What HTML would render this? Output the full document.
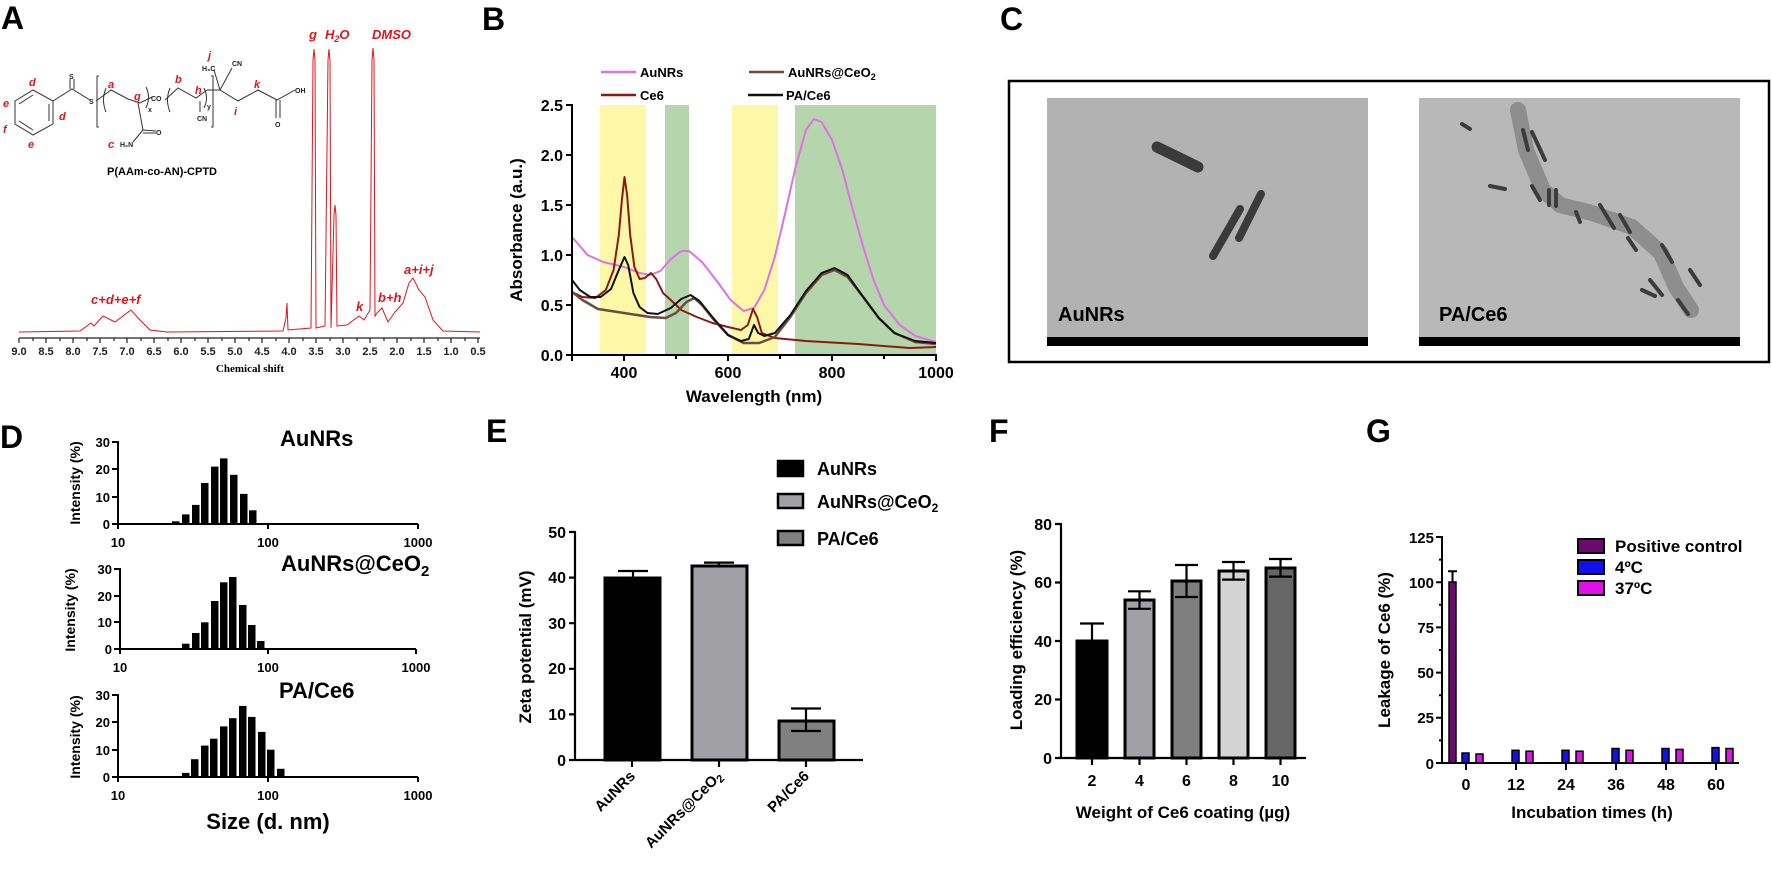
<!DOCTYPE html>
<html><head><meta charset="utf-8"><style>
html,body{margin:0;padding:0;background:#fff;}
svg{display:block;font-family:"Liberation Sans",sans-serif;}
.b{font-weight:bold;}
</style></head><body>
<svg width="1772" height="869" viewBox="0 0 1772 869" xmlns="http://www.w3.org/2000/svg">
<!-- Panel letters -->
<g class="b" font-size="32" fill="#000">
<text x="1" y="29">A</text><text x="482" y="30">B</text><text x="1000" y="30">C</text>
<text x="0" y="448">D</text><text x="486" y="442">E</text><text x="989" y="442">F</text><text x="1366" y="442">G</text>
</g>

<!-- ===== A: NMR ===== -->
<g stroke="#333" stroke-width="1" fill="none">
<polygon points="15,101 33,90 53,101 53,124 33,135 15,124"/>
<line x1="19" y1="104" x2="33" y2="95"/><line x1="49" y1="104" x2="49" y2="121"/><line x1="19" y1="121" x2="33" y2="130"/>
<polyline points="53,101 72,89 90,100"/><line x1="70" y1="79" x2="70" y2="89"/><line x1="74" y1="79" x2="74" y2="89"/>
<polyline points="99,76 97,76 97,127 99,127"/><path d="M106,88 Q101,100 106,112"/>
<polyline points="96,101 111,90 128,99 140,103 152,97"/><path d="M146,87 Q151,97 146,108"/>
<polyline points="138,103 143,130 156,131"/><line x1="143" y1="133" x2="156" y2="133"/><line x1="143" y1="130" x2="133" y2="142"/>
<path d="M170,88 Q165,100 170,112"/><polyline points="165,100 178,88 196,98 207,90"/><line x1="200" y1="101" x2="200" y2="112"/>
<path d="M204,88 Q209,98 204,108"/><polyline points="211,76 213,76 213,127 211,127"/>
<polyline points="207,90 220,90 238,101 258,90 277,100 295,90"/><line x1="220" y1="90" x2="214" y2="70"/><line x1="220" y1="90" x2="232" y2="68"/>
<line x1="276" y1="100" x2="276" y2="118"/><line x1="280" y1="100" x2="280" y2="118"/>
</g>
<g font-size="7" class="b" fill="#222">
<text x="69" y="79">S</text><text x="89" y="104">S</text><text x="151" y="101">CO</text><text x="148" y="112">x</text>
<text x="156" y="135">O</text><text x="120" y="147">H₂N</text><text x="197" y="121">CN</text><text x="207" y="109">y</text>
<text x="202" y="71">H₃C</text><text x="232" y="66">CN</text><text x="295" y="93">OH</text><text x="275" y="127">O</text>
</g>
<g font-size="11" class="b" font-style="italic" fill="#e0141c">
<text x="29" y="86">d</text><text x="59" y="120">d</text><text x="3" y="107">e</text><text x="3" y="133">f</text><text x="28" y="148">e</text>
<text x="108" y="148">c</text><text x="108" y="88">a</text><text x="134" y="100">g</text><text x="175" y="83">b</text><text x="195" y="94">h</text>
<text x="208" y="59">j</text><text x="254" y="88">k</text><text x="234" y="115">i</text>
</g>
<text x="162" y="175" font-size="11" class="b" text-anchor="middle">P(AAm-co-AN)-CPTD</text>
<path fill="none" stroke="#e0141c" stroke-width="1" d="M19,332 L80,331 L91,323 L94,326 L103,316 L115,322 L131,310 L140,320 L150,330 L167,332 L283,331 L286,318 L287,303 L288,330 L311,328 L313,60 L314,49 L315,60 L316,328 L325,326 L328,60 L329,49 L330,60 L331,328 L334,215 L335,205 L336,215 L337,326 L347,325 L359,316 L364,320 L370,310 L372,60 L373,48 L374,60 L375,316 L377,313 L382,308 L388,322 L395,312 L403,303 L409,283 L413,278 L419,290 L425,297 L433,320 L443,331 L480,332"/>
<g font-size="13" class="b" font-style="italic" fill="#e0141c">
<text x="309" y="39">g</text><text x="325" y="39">H<tspan font-size="9" dy="3">2</tspan><tspan dy="-3">O</tspan></text>
<text x="372" y="39">DMSO</text><text x="91" y="304">c+d+e+f</text><text x="356" y="311">k</text><text x="378" y="302">b+h</text><text x="404" y="274">a+i+j</text>
</g>
<g stroke="#222" stroke-width="1.2">
<line x1="19" y1="338" x2="480" y2="338"/>
<path d="M19,338v5M33,338v3M46,338v5M60,338v3M73,338v5M87,338v3M100,338v5M114,338v3M127,338v5M141,338v3M154,338v5M168,338v3M181,338v5M195,338v3M208,338v5M222,338v3M235,338v5M249,338v3M262,338v5M276,338v3M289,338v5M303,338v3M316,338v5M330,338v3M343,338v5M357,338v3M370,338v5M384,338v3M397,338v5M411,338v3M424,338v5M438,338v3M451,338v5M465,338v3M478,338v5"/>
</g>
<g font-size="11" class="b" text-anchor="middle" fill="#222">
<text x="19" y="355">9.0</text><text x="46" y="355">8.5</text><text x="73" y="355">8.0</text><text x="100" y="355">7.5</text><text x="127" y="355">7.0</text><text x="154" y="355">6.5</text><text x="181" y="355">6.0</text><text x="208" y="355">5.5</text><text x="235" y="355">5.0</text><text x="262" y="355">4.5</text><text x="289" y="355">4.0</text><text x="316" y="355">3.5</text><text x="343" y="355">3.0</text><text x="370" y="355">2.5</text><text x="397" y="355">2.0</text><text x="424" y="355">1.5</text><text x="451" y="355">1.0</text><text x="478" y="355">0.5</text>
</g>
<text x="250" y="372" font-family="Liberation Serif,serif" font-size="11" class="b" text-anchor="middle">Chemical shift</text>

<!-- ===== B: UV-vis ===== -->
<rect x="600" y="105" width="46" height="250" fill="#fcf8a8"/>
<rect x="665" y="105" width="24" height="250" fill="#b5d6ac"/>
<rect x="732" y="105" width="46" height="250" fill="#fcf8a8"/>
<rect x="795" y="105" width="141" height="250" fill="#b5d6ac"/>
<g fill="none" stroke-width="2" stroke-linejoin="round">
<polyline stroke="#e070e6" points="572,237 587.6,255 603.2,262 624,267 639.6,273 650,275 660.4,271 670.8,259 681.2,251 689,251 702,262 717.6,282 730.6,300 743.6,311 754,308 764.4,290 774.8,257 785.2,213 795.6,167 806,130 813.8,119 821.6,122 832,140 842.4,170 852.8,210 863.2,247 873.6,280 884,305 899.6,325 915.2,336 936,342"/>
<polyline stroke="#8a1a12" points="572,292 582.4,297 595.4,298 605.8,290 613.6,270 618.8,235 621.9,200 624.5,177 627.1,195 630.2,235 634.4,267 639.6,279 644.8,278 651,273 656.2,279 663,293 670.8,300 681.2,310 696.8,317 712.4,323 728,327 741,330 747.8,325 753,309 757.1,317 761.8,333 774.8,338 806,341 858,344 910,348 936,347"/>
<polyline stroke="#6e4c3c" stroke-width="2.5" points="572,292 582.4,300 598,309 624,313 650,317 665.6,318 676,313 686.4,302 694.2,298 702,305 712.4,318 728,335 743.6,343 759.2,343 774.8,337 790.4,317 806,293 821.6,275 834.6,270 847.6,277 863.2,297 878.8,318 894.4,333 915.2,342 936,344"/>
<polyline stroke="#111" points="572,280 579.8,290 590.2,297 600.6,297 611,289 618.8,270 624.5,257 628.2,265 633.4,293 639.6,307 647.4,313 657.8,314 670.8,308 681.2,299 690.6,295 699.4,301 712.4,317 728,335 741,341 748.8,339 754,325 758.2,333 764.4,336 774.8,333 790.4,315 806,291 821.6,273 834.6,268 847.6,275 863.2,297 878.8,318 894.4,333 915.2,341 936,343"/>
</g>
<g stroke="#000" stroke-width="2">
<line x1="572" y1="104" x2="572" y2="356"/><line x1="571" y1="355" x2="937" y2="355"/>
<path d="M566,105h6M566,155h6M566,205h6M566,255h6M566,305h6M566,355h6M572,355v6M624,355v6M676,355v4M728,355v6M780,355v4M832,355v6M884,355v4M936,355v6"/>
</g>
<g font-size="16" class="b" text-anchor="end">
<text x="563" y="111">2.5</text><text x="563" y="161">2.0</text><text x="563" y="211">1.5</text><text x="563" y="261">1.0</text><text x="563" y="311">0.5</text><text x="563" y="361">0.0</text>
</g>
<g font-size="16" class="b" text-anchor="middle">
<text x="624" y="378">400</text><text x="728" y="378">600</text><text x="832" y="378">800</text><text x="936" y="378">1000</text>
</g>
<text x="754" y="402" font-size="17" class="b" text-anchor="middle">Wavelength (nm)</text>
<text transform="translate(522,230) rotate(-90)" font-size="17" class="b" text-anchor="middle">Absorbance (a.u.)</text>
<g stroke-width="2.5"><line x1="601" y1="72" x2="636" y2="72" stroke="#e070e6"/><line x1="601" y1="95" x2="636" y2="95" stroke="#8a1a12"/>
<line x1="749" y1="72" x2="784" y2="72" stroke="#6e4c3c"/><line x1="748" y1="95" x2="783" y2="95" stroke="#111"/></g>
<g font-size="13" class="b"><text x="640" y="77">AuNRs</text><text x="640" y="100">Ce6</text>
<text x="788" y="77">AuNRs@CeO<tspan font-size="9" dy="3">2</tspan></text><text x="786" y="100">PA/Ce6</text></g>

<!-- ===== C: TEM ===== -->
<rect x="1009" y="81" width="760" height="281" fill="none" stroke="#000" stroke-width="2.5"/>
<rect x="1047" y="98" width="321" height="248" fill="#b2b2b2"/>
<rect x="1419" y="98" width="321" height="248" fill="#b8b8b8"/>
<rect x="1047" y="337" width="321" height="9" fill="#000"/><rect x="1419" y="337" width="321" height="9" fill="#000"/>
<g stroke-linecap="round" stroke="#3a3a3a">
<line x1="1157" y1="147" x2="1198" y2="167" stroke-width="11"/>
<line x1="1261" y1="194" x2="1239" y2="238" stroke-width="8"/>
<line x1="1240" y1="209" x2="1213" y2="256" stroke-width="8"/>
</g>
<g stroke-linecap="round" fill="none">
<polyline points="1518,110 1526,150 1543,190 1560,205 1592,213 1632,227 1661,253 1676,287 1691,310" stroke="#8e8e8e" stroke-width="16" stroke-linejoin="round"/>
<g stroke="#3c3c3c" stroke-width="4">
<line x1="1462" y1="124" x2="1470" y2="129"/><line x1="1523" y1="130" x2="1528" y2="150"/><line x1="1532" y1="132" x2="1545" y2="160"/>
<line x1="1490" y1="186" x2="1505" y2="189"/><line x1="1532" y1="186" x2="1540" y2="200"/><line x1="1549" y1="190" x2="1549" y2="205"/><line x1="1556" y1="190" x2="1556" y2="206"/>
<line x1="1576" y1="212" x2="1580" y2="222"/><line x1="1600" y1="205" x2="1614" y2="228"/><line x1="1620" y1="215" x2="1630" y2="232"/>
<line x1="1628" y1="238" x2="1636" y2="250"/><line x1="1662" y1="245" x2="1672" y2="262"/><line x1="1650" y1="280" x2="1662" y2="295"/>
<line x1="1642" y1="290" x2="1655" y2="296"/><line x1="1678" y1="300" x2="1688" y2="314"/><line x1="1690" y1="270" x2="1700" y2="285"/>
</g></g>
<g font-size="20" class="b"><text x="1058" y="321">AuNRs</text><text x="1439" y="321">PA/Ce6</text></g>

<!-- ===== D: DLS ===== -->
<g fill="#000">
<!-- top -->
<rect x="172" y="521.3" width="7.5" height="2.7"/><rect x="182" y="514.4" width="7.5" height="9.6"/><rect x="192" y="504.9" width="7.5" height="19.1"/><rect x="201" y="483" width="7.5" height="41"/><rect x="211" y="466.6" width="7.5" height="57.4"/><rect x="220" y="458.4" width="7.5" height="65.6"/><rect x="230" y="474.8" width="7.5" height="49.2"/><rect x="240" y="493.9" width="7.5" height="30.1"/><rect x="249" y="510.3" width="7.5" height="13.7"/>
<!-- mid -->
<rect x="182" y="643.7" width="7.5" height="5.3"/><rect x="192" y="633" width="7.5" height="16"/><rect x="201" y="622.3" width="7.5" height="26.7"/><rect x="211" y="601" width="7.5" height="48"/><rect x="220" y="582.3" width="7.5" height="66.7"/><rect x="229" y="577" width="7.5" height="72"/><rect x="239" y="605" width="7.5" height="44"/><rect x="248" y="625" width="7.5" height="24"/><rect x="257" y="641" width="7.5" height="8"/>
<!-- bottom -->
<rect x="182" y="772.9" width="7.5" height="4.1"/><rect x="191" y="759.2" width="7.5" height="17.8"/><rect x="201" y="745.6" width="7.5" height="31.4"/><rect x="210" y="738.7" width="7.5" height="38.3"/><rect x="220" y="726.4" width="7.5" height="50.6"/><rect x="229" y="718.2" width="7.5" height="58.8"/><rect x="239" y="705.9" width="7.5" height="71.1"/><rect x="248" y="716.9" width="7.5" height="60.1"/><rect x="258" y="731.9" width="7.5" height="45.1"/><rect x="267" y="749.7" width="7.5" height="27.3"/><rect x="277" y="768.8" width="7.5" height="8.2"/>
</g>
<g stroke="#000" stroke-width="2" fill="none">
<path d="M118,441V524H418M112,442h6M112,469h6M112,497h6M112,524h6M118,524v5M268,524v5M418,524v5"/>
<path d="M120,568V649H416M114,569h6M114,596h6M114,622h6M114,649h6M120,649v5M268,649v5M416,649v5"/>
<path d="M118,694V777H418M112,695h6M112,722h6M112,750h6M112,777h6M118,777v5M268,777v5M418,777v5"/>
</g>
<g font-size="13" class="b" text-anchor="end">
<text x="110" y="447">30</text><text x="110" y="474">20</text><text x="110" y="502">10</text><text x="110" y="529">0</text>
<text x="112" y="574">30</text><text x="112" y="601">20</text><text x="112" y="627">10</text><text x="112" y="654">0</text>
<text x="110" y="700">30</text><text x="110" y="727">20</text><text x="110" y="755">10</text><text x="110" y="782">0</text>
</g>
<g font-size="13" class="b" text-anchor="middle">
<text x="118" y="547">10</text><text x="268" y="547">100</text><text x="418" y="547">1000</text>
<text x="120" y="672">10</text><text x="268" y="672">100</text><text x="416" y="672">1000</text>
<text x="118" y="800">10</text><text x="268" y="800">100</text><text x="418" y="800">1000</text>
</g>
<g font-size="14" class="b" text-anchor="middle">
<text transform="translate(80,483) rotate(-90)">Intensity (%)</text>
<text transform="translate(75,610) rotate(-90)">Intensity (%)</text>
<text transform="translate(80,737) rotate(-90)">Intensity (%)</text>
</g>
<g font-size="22" class="b"><text x="280" y="446">AuNRs</text><text x="281" y="571">AuNRs@CeO<tspan font-size="15" dy="5">2</tspan></text><text x="279" y="698">PA/Ce6</text></g>
<text x="268" y="829" font-size="22" class="b" text-anchor="middle">Size (d. nm)</text>

<!-- ===== E: Zeta ===== -->
<g stroke="#000" stroke-width="3">
<rect x="605" y="578" width="55" height="182" fill="#000"/>
<rect x="692" y="566" width="55" height="194" fill="#a1a1a5"/>
<rect x="779" y="721" width="55" height="39" fill="#808080"/>
</g>
<g stroke="#000" stroke-width="2.2" fill="none">
<path d="M633,578V571M618,571h30M719,566V562.6M704,562.6h30M806,721V708.5M791,708.5h30M806,721V731M791,731h30"/>
<path d="M575,531V760H863M569,532h6M569,577.6h6M569,623.2h6M569,668.8h6M569,714.4h6M569,760h6M632,760v7M719,760v7M806,760v7"/>
</g>
<g font-size="16" class="b" text-anchor="end">
<text x="566" y="538">50</text><text x="566" y="583">40</text><text x="566" y="629">30</text><text x="566" y="674">20</text><text x="566" y="720">10</text><text x="566" y="766">0</text>
</g>
<g font-size="15" class="b" text-anchor="end">
<text transform="translate(636,777) rotate(-45)">AuNRs</text>
<text transform="translate(723,777) rotate(-45)">AuNRs@CeO<tspan font-size="11" dy="3">2</tspan></text>
<text transform="translate(810,777) rotate(-45)">PA/Ce6</text>
</g>
<text transform="translate(531,647) rotate(-90)" font-size="17" class="b" text-anchor="middle">Zeta potential (mV)</text>
<g stroke="#000" stroke-width="2.5"><rect x="778" y="461" width="25" height="15" fill="#000"/><rect x="778" y="494" width="25" height="14" fill="#a1a1a5"/><rect x="778" y="531" width="25" height="14" fill="#808080"/></g>
<g font-size="18" class="b"><text x="817" y="475">AuNRs</text><text x="817" y="508">AuNRs@CeO<tspan font-size="12" dy="4">2</tspan></text><text x="817" y="545">PA/Ce6</text></g>

<!-- ===== F: Loading ===== -->
<g stroke="#000" stroke-width="3">
<rect x="1077" y="641" width="30" height="117" fill="#000"/>
<rect x="1125" y="600" width="29" height="158" fill="#a1a1a5"/>
<rect x="1172" y="581" width="29" height="177" fill="#7f7f7f"/>
<rect x="1219" y="571" width="29" height="187" fill="#d3d3d3"/>
<rect x="1266" y="568" width="29" height="190" fill="#666"/>
</g>
<g stroke="#000" stroke-width="2.2" fill="none">
<path d="M1092,641V623.5M1080,623.5h24M1139.5,600V591.3M1128,591.3h23M1139.5,600V608.8M1128,608.8h23M1186.5,581V565M1175,565h23M1186.5,581V597M1175,597h23M1233.5,571V562M1222,562h23M1233.5,571V579.6M1222,579.6h23M1280.5,568V559M1269,559h23M1280.5,568V576.6M1269,576.6h23"/>
<path d="M1061,523V758H1306M1055,524h6M1055,582.5h6M1055,641h6M1055,699.5h6M1055,758h6M1092,758v7M1139.5,758v7M1186.5,758v7M1233.5,758v7M1280.5,758v7"/>
</g>
<g font-size="16" class="b" text-anchor="end">
<text x="1052" y="530">80</text><text x="1052" y="588">60</text><text x="1052" y="647">40</text><text x="1052" y="705">20</text><text x="1052" y="764">0</text>
</g>
<g font-size="16" class="b" text-anchor="middle">
<text x="1092" y="786">2</text><text x="1139.5" y="786">4</text><text x="1186.5" y="786">6</text><text x="1233.5" y="786">8</text><text x="1280.5" y="786">10</text>
</g>
<text x="1183" y="818" font-size="17" class="b" text-anchor="middle">Weight of Ce6 coating (µg)</text>
<text transform="translate(1022,640) rotate(-90)" font-size="17" class="b" text-anchor="middle">Loading efficiency (%)</text>

<!-- ===== G: Leakage ===== -->
<g stroke="#000" stroke-width="1.5">
<rect x="1449" y="582" width="7" height="181" fill="#6a0a6e"/>
<rect x="1462" y="753" width="7" height="10" fill="#1010f0"/><rect x="1476" y="754" width="7" height="9" fill="#e010e8"/>
<rect x="1512" y="750.3" width="7" height="12.7" fill="#1010f0"/><rect x="1526" y="751.2" width="7" height="11.8" fill="#e010e8"/>
<rect x="1562" y="750.3" width="7" height="12.7" fill="#1010f0"/><rect x="1576" y="751.2" width="7" height="11.8" fill="#e010e8"/>
<rect x="1612" y="748.5" width="7" height="14.5" fill="#1010f0"/><rect x="1626" y="750.3" width="7" height="12.7" fill="#e010e8"/>
<rect x="1662" y="748.5" width="7" height="14.5" fill="#1010f0"/><rect x="1676" y="749.4" width="7" height="13.6" fill="#e010e8"/>
<rect x="1712" y="747.6" width="7" height="15.4" fill="#1010f0"/><rect x="1726" y="748.5" width="7" height="14.5" fill="#e010e8"/>
</g>
<g stroke="#000" stroke-width="2" fill="none">
<path d="M1452.5,582V571.3M1448,571.3h9"/>
<path d="M1442,536V763H1739M1436,537h6M1439,559.6h3M1436,582.2h6M1439,604.8h3M1436,627.4h6M1439,650h3M1436,672.6h6M1439,695.2h3M1436,717.8h6M1439,740.4h3M1436,763h6M1466,763v7M1516,763v7M1566,763v7M1616,763v7M1666,763v7M1716,763v7"/>
</g>
<g font-size="15" class="b" text-anchor="end">
<text x="1434" y="543">125</text><text x="1434" y="588">100</text><text x="1434" y="633">75</text><text x="1434" y="678">50</text><text x="1434" y="723">25</text><text x="1434" y="769">0</text>
</g>
<g font-size="16" class="b" text-anchor="middle">
<text x="1466" y="790">0</text><text x="1516" y="790">12</text><text x="1566" y="790">24</text><text x="1616" y="790">36</text><text x="1666" y="790">48</text><text x="1716" y="790">60</text>
</g>
<text x="1592" y="818" font-size="17" class="b" text-anchor="middle">Incubation times (h)</text>
<text transform="translate(1390,650) rotate(-90)" font-size="17" class="b" text-anchor="middle">Leakage of Ce6 (%)</text>
<g stroke="#000" stroke-width="2"><rect x="1578" y="539" width="26" height="14" fill="#6a0a6e"/><rect x="1578" y="560" width="26" height="14" fill="#1010f0"/><rect x="1578" y="581" width="26" height="14" fill="#e010e8"/></g>
<g font-size="17" class="b"><text x="1615" y="552">Positive control</text><text x="1615" y="573">4ºC</text><text x="1615" y="594">37ºC</text></g>
</svg>
</body></html>
